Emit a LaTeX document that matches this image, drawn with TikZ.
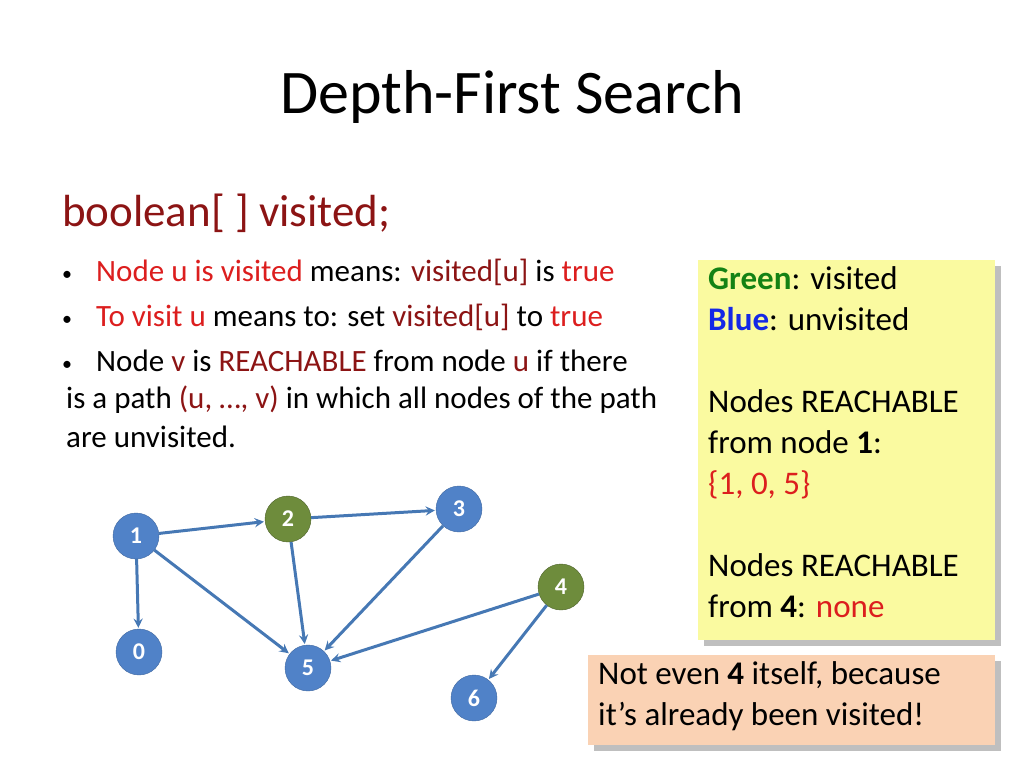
\documentclass[tikz,border=0pt]{standalone}
\usepackage{fontspec}
\setmainfont{Carlito}
\usepackage{xcolor}
\usetikzlibrary{arrows}
\definecolor{dred}{RGB}{140,20,20}
\definecolor{tred}{RGB}{220,30,30}
\definecolor{nblue}{RGB}{80,130,200}
\definecolor{ngreen}{RGB}{110,140,60}
\definecolor{eblue}{RGB}{70,120,180}
\definecolor{vgreen}{RGB}{20,130,20}
\definecolor{ublue}{RGB}{20,40,230}
\definecolor{note}{RGB}{250,250,160}
\definecolor{peach}{RGB}{250,210,180}
\newcommand{\bul}{\makebox[34pt][l]{\raisebox{1pt}{\fontsize{20}{20}\selectfont\textbullet}}}

\begin{document}
\begin{tikzpicture}[x=1pt,y=-1pt,
  vert/.style={circle, fill=nblue, draw=nblue!80!black, minimum size=46pt, inner sep=0pt, text=white, font=\fontsize{24}{24}\selectfont\bfseries},
  seen/.style={vert, fill=ngreen, draw=ngreen!70!black},
  arc/.style={->, >=stealth, line width=3pt, draw=eblue, shorten >=1pt},
  txt/.style={anchor=west, inner sep=0pt, font=\fontsize{31}{31}\selectfont}]
  \useasboundingbox (0,0) rectangle (1024,768);
  \node (title) at (512,97) {\fontsize{62}{62}\selectfont Depth-First Search};
  \node[txt, text=dred] (decl) at (62,213) {\fontsize{45}{45}\selectfont boolean[ ] visited;};
  \node[txt] (b1) at (62,272) {\bul\textcolor{tred}{Node u is visited} means: \textcolor{dred}{visited[u]} is \textcolor{tred}{true}};
  \node[txt] (b2) at (62,317) {\bul\textcolor{tred}{To visit u} means to: set \textcolor{dred}{visited[u]} to \textcolor{tred}{true}};
  \node[txt] (b3) at (62,361) {\bul Node \textcolor{dred}{v} is \textcolor{dred}{REACHABLE} from node \textcolor{dred}{u} if there};
  \node[txt] (b4) at (66,400) {is a path \textcolor{dred}{(u, \dots, v)} in which all nodes of the path};
  \node[txt] (b5) at (66,437) {are unvisited.};

  % legend boxes
  \fill[black!25] (704,266) rectangle (1001,646);
  \fill[note] (698,260) rectangle (995,640);
  \node[txt, anchor=north west, align=left, font=\fontsize{33}{41}\selectfont] (legend) at (708,266)
    {\textcolor{vgreen}{\bfseries Green}: visited\\ \textcolor{ublue}{\bfseries Blue}: unvisited\\[41pt]
     Nodes REACHABLE\\ from node \textbf{1}:\\ \textcolor{tred}{\{1, 0, 5\}}\\[41pt]
     Nodes REACHABLE\\ from \textbf{4}: \textcolor{tred}{none}};
  \fill[black!25] (594,661) rectangle (1001,751);
  \fill[peach] (588,655) rectangle (995,745);
  \node[txt, anchor=north west, align=left, font=\fontsize{33}{41}\selectfont] (note) at (598,661)
    {Not even \textbf{4} itself, because\\ it’s already been visited!};

  % graph
  \node[vert] (n1) at (136,536) {1};
  \node[seen] (n2) at (288,519) {2};
  \node[vert] (n3) at (459,509) {3};
  \node[seen] (n4) at (561,587) {4};
  \node[vert] (n0) at (139,652) {0};
  \node[vert] (n5) at (308,668) {5};
  \node[vert] (n6) at (474,698) {6};
  \draw[arc] (n1) -- (n2);
  \draw[arc] (n2) -- (n3);
  \draw[arc] (n1) -- (n0);
  \draw[arc] (n1) -- (n5);
  \draw[arc] (n2) -- (n5);
  \draw[arc] (n3) -- (n5);
  \draw[arc] (n4) -- (n5);
  \draw[arc] (n4) -- (n6);
\end{tikzpicture}
\end{document}
